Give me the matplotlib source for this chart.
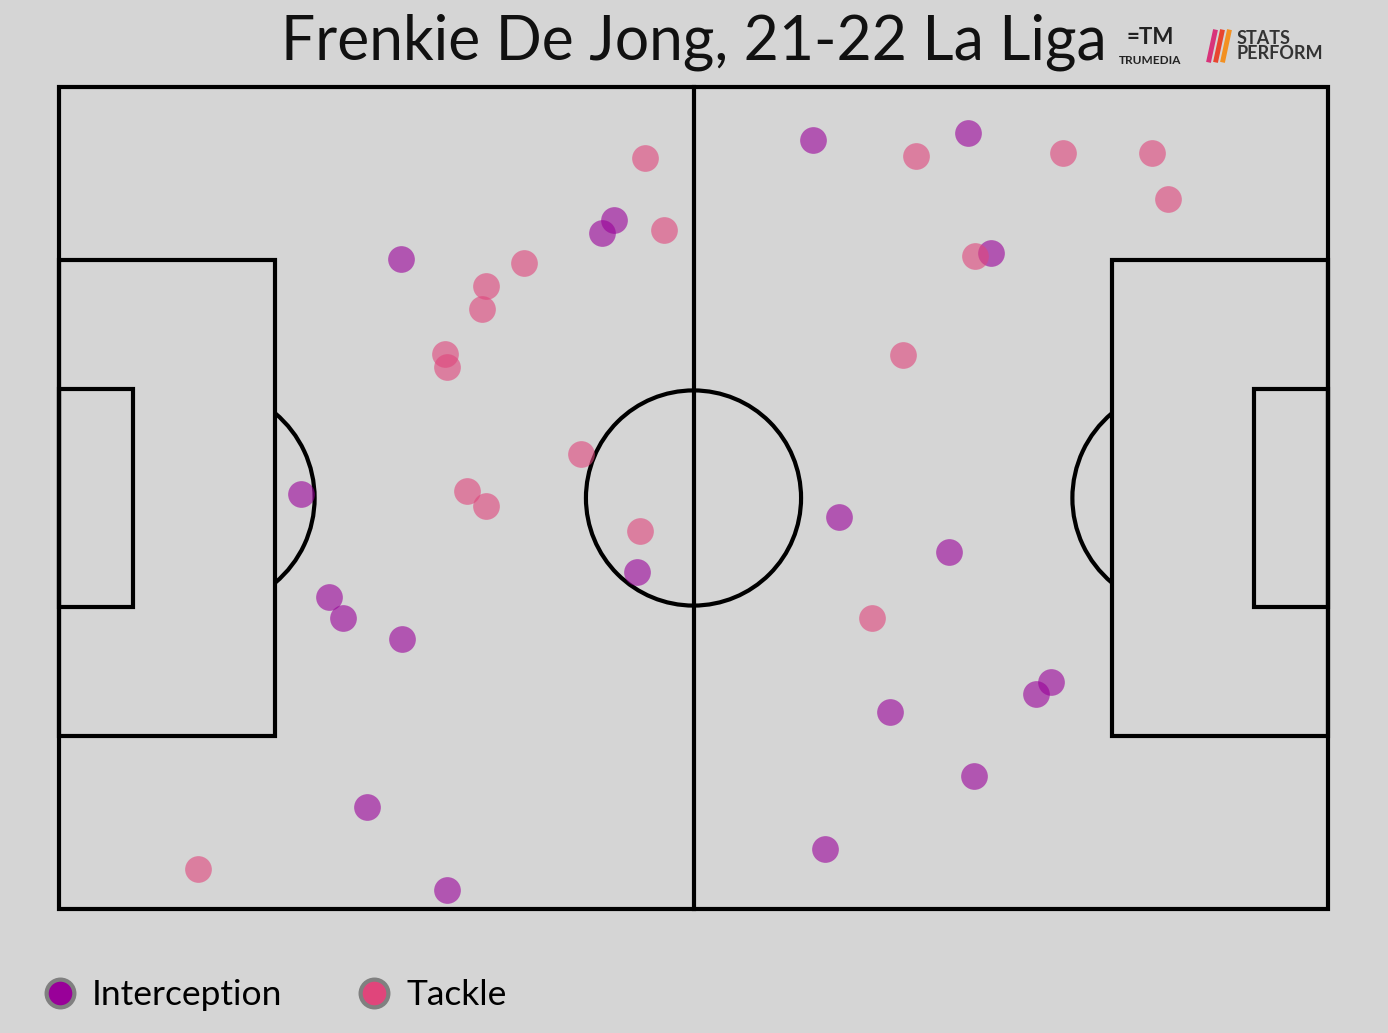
import numpy as np
import matplotlib.pyplot as plt
from matplotlib.patches import Rectangle, Arc, Circle
from matplotlib.lines import Line2D

plt.rcParams['font.family'] = ['Lato', 'DejaVu Sans']

# pitch 105 x 68 metres, defensive actions
int_x = [62.4, 75.2, 45.9, 44.9, 28.3, 77.1, 20.0, 64.5, 73.6, 47.8,
         22.3, 23.5, 28.4, 82.1, 80.8, 68.8, 75.7, 25.5, 63.4, 32.1]
int_y = [63.6, 64.2, 57.0, 55.9, 53.8, 54.3, 34.3, 32.4, 29.5, 27.9,
         25.8, 24.1, 22.3, 18.8, 17.8, 16.3, 11.0, 8.4, 5.0, 1.6]
tck_x = [48.5, 70.9, 83.1, 90.4, 91.8, 50.1, 38.5, 75.8, 35.3, 35.0,
         31.9, 32.1, 69.8, 43.2, 33.8, 35.3, 48.1, 67.3, 11.5]
tck_y = [62.1, 62.3, 62.5, 62.5, 58.7, 56.2, 53.4, 54.0, 51.5, 49.6,
         45.9, 44.8, 45.8, 37.6, 34.6, 33.3, 31.3, 24.1, 3.3]

bg = '#d5d5d5'
purple = '#990099'
pink = '#e0457b'

fig = plt.figure(figsize=(13.88, 10.33), dpi=100, facecolor=bg)
ax = fig.add_axes([59/1388, 124/1033, 1269/1388, 822/1033])
ax.set_facecolor(bg)
ax.set_xlim(0, 105)
ax.set_ylim(0, 68)
ax.axis('off')

lw = 3
kw = dict(fill=False, lw=lw, ec='black', clip_on=False, zorder=1)
ax.add_patch(Rectangle((0, 0), 105, 68, **kw))
ax.plot([52.5, 52.5], [0, 68], color='black', lw=lw, clip_on=False, zorder=1)
ax.add_patch(Circle((52.5, 34), 8.9, **kw))
# boxes
ax.add_patch(Rectangle((0, 34 - 19.7), 17.9, 39.4, **kw))
ax.add_patch(Rectangle((105 - 17.9, 34 - 19.7), 17.9, 39.4, **kw))
ax.add_patch(Rectangle((0, 34 - 9), 6.1, 18, **kw))
ax.add_patch(Rectangle((105 - 6.1, 34 - 9), 6.1, 18, **kw))
ax.add_patch(Arc((12, 34), 18.3, 18.3, theta1=-50, theta2=50, lw=lw, color='black', zorder=1))
ax.add_patch(Arc((93, 34), 18.3, 18.3, theta1=130, theta2=230, lw=lw, color='black', zorder=1))

ax.scatter(int_x, int_y, s=370, color=purple, alpha=0.6, lw=0, zorder=3)
ax.scatter(tck_x, tck_y, s=370, color=pink, alpha=0.6, lw=0, zorder=3)

fig.text(0.5, 1 - 42/1033, 'Frenkie De Jong, 21-22 La Liga', ha='center', va='center',
         fontsize=43.7, color='#111111')

# logos
fig.text(1150/1388, 1 - 61/1033, 'TRUMEDIA', ha='center', va='center', fontsize=8.5,
         fontweight='bold', color='#222222')
fig.text(1127/1388, 1 - 38/1033, '=TM', ha='left', va='center', fontsize=16,
         fontweight='bold', color='#222222')
for i, c in enumerate(['#d8337a', '#e8452f', '#f39021']):
    fig.lines.append(Line2D([(1209 + i * 7) / 1388, (1215 + i * 7) / 1388],
                            [1 - 60 / 1033, 1 - 32 / 1033], transform=fig.transFigure,
                            color=c, lw=3.5))
fig.text(1237/1388, 1 - 46/1033, 'STATS\nPERFORM', ha='left', va='center', fontsize=13,
         fontweight='bold', color='#333333', linespacing=0.8)

handles = [Line2D([], [], marker='o', ls='', ms=20, mfc=purple, mec='#808080', mew=3),
           Line2D([], [], marker='o', ls='', ms=20, mfc=pink, mec='#808080', mew=3)]
fig.legend(handles, ['Interception', 'Tackle'], loc='center left',
           bbox_to_anchor=(7/1388, 1 - 995/1033), ncol=2, frameon=False,
           fontsize=25.5, handletextpad=0.3, columnspacing=2.0, handlelength=1.2)

fig.savefig('out.png', dpi=100, facecolor=bg)
